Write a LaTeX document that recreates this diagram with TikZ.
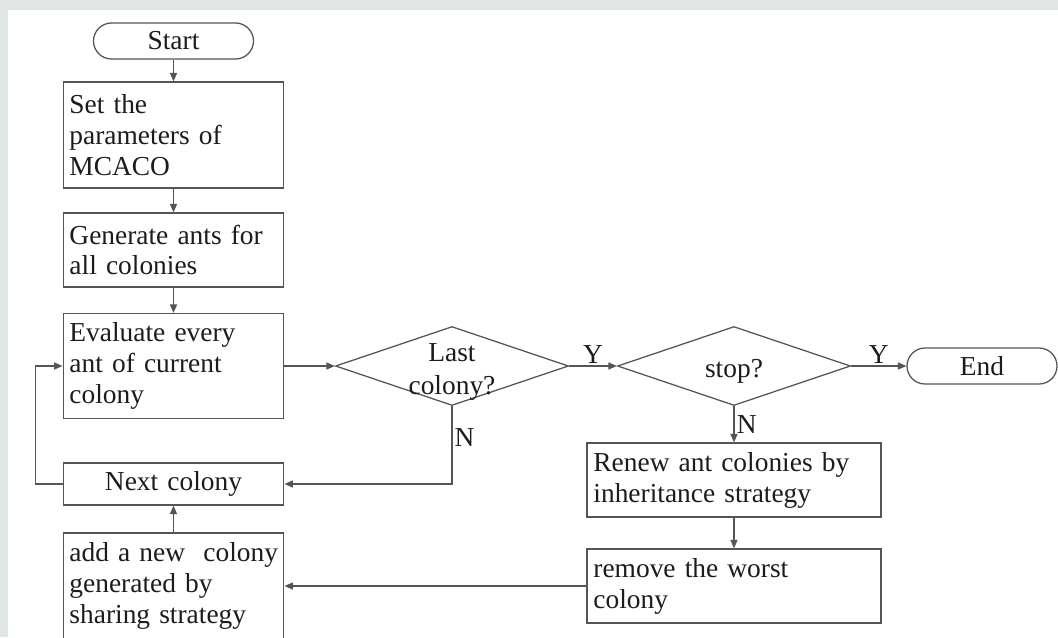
\documentclass[tikz,border=0pt]{standalone}
\usepackage{fontspec}
\setmainfont{Liberation Serif}
\usetikzlibrary{shapes.geometric,arrows.meta}
\definecolor{bggray}{RGB}{225,229,229}
\definecolor{edgegray}{RGB}{85,85,85}
\definecolor{inkgray}{RGB}{28,28,28}
\newcommand{\flatlines}[1]{\smash{\raisebox{-9pt}{\makebox[0pt]{\begin{tabular}{@{}c@{}}#1\end{tabular}}}}}
\tikzset{
  every node/.style={text=inkgray, font=\fontsize{19.5}{22}\selectfont},
  terminal/.style={draw=edgegray, line width=0.9pt, rounded corners=0.45cm, minimum width=4cm, minimum height=0.9cm, inner sep=0pt},
  process/.style={draw=edgegray, line width=0.9pt, text width=148pt, inner xsep=4.5pt, inner ysep=0pt, align=left},
  widebox/.style={process, text width=200pt},
  decision/.style={draw=edgegray, line width=0.9pt, diamond, minimum width=5.825cm, minimum height=1.975cm, inner sep=0pt},
  flow/.style={draw=edgegray, line width=0.9pt, -{Triangle[length=6pt,width=5pt]}},
  yn/.style={inner sep=1.5pt}
}

\begin{document}
\begin{tikzpicture}
        \useasboundingbox (0,0) rectangle (26.45,-15.925);
        \fill[bggray] (0,0) rectangle (26.45,-15.925); \fill[white] (0.2,-0.25) rectangle (26.45,-15.925);
        \node[terminal] (start) at (4.3375,-1.025) {Start};
        \node[process, minimum height=2.65cm] (setp) at (4.3375,-3.375) {Set the\\parameters of\\MCACO};
        \node[process, minimum height=1.85cm] (gen) at (4.3375,-6.25) {Generate ants for\\all colonies};
        \node[process, minimum height=2.625cm] (eval) at (4.3375,-9.15) {Evaluate every\\ant of current\\colony};
        \node[process, align=center, minimum height=1.05cm] (next) at (4.3375,-12.1) {Next colony};
        \node[process, minimum height=2.65cm] (add) at (4.3375,-14.65) {\mbox{add a new~ colony}\\generated by\\sharing strategy};
        \node[decision] (last) at (11.3,-9.15) {\flatlines{Last\\[1.5pt]colony?}};
        \node[decision] (stop) at (18.35,-9.15) {\flatlines{stop?}};
        \node[terminal, minimum width=3.75cm] (finish) at (24.55,-9.15) {End};
        \node[widebox, minimum height=1.85cm] (renew) at (18.35,-12.0) {Renew ant colonies by\\inheritance strategy};
        \node[widebox, minimum height=1.85cm] (remove) at (18.35,-14.65) {remove the worst\\colony};
        \draw[flow] (start) -- (setp); \draw[flow] (setp) -- (gen); \draw[flow] (gen) -- (eval); \draw[flow] (eval) -- (last);
        \draw[flow] (last) -- node[yn, above] {Y} (stop);
        \draw[flow] (stop) -- node[yn, above] {Y} (finish);
        \draw[flow] (last.south) |- node[yn, right, pos=0.2] {N} (next.east);
        \draw[flow] (stop) -- node[yn, right] {N} (renew);
        \draw[flow] (renew) -- (remove); \draw[flow] (remove) -- (add); \draw[flow] (add) -- (next);
        \draw[flow] (next.west) -- ++(-0.675,0) |- (eval.west);
    \end{tikzpicture}
\end{document}
